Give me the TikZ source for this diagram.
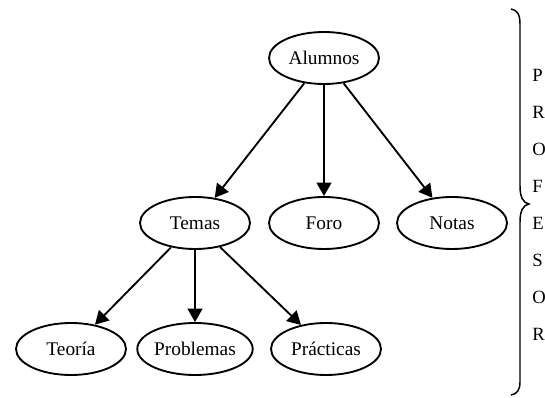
\documentclass[tikz,border=0pt]{standalone}
\usepackage{fontspec}
\setmainfont{Liberation Serif}
\usetikzlibrary{arrows.meta,shapes.geometric}

\begin{document}
\begin{tikzpicture}[x=0.75pt, y=-0.75pt,
        caja/.style={draw, ellipse, line width=1.4pt, minimum width=82.5pt, minimum height=39pt,
                     inner sep=0pt, font=\fontsize{14.5}{16}\selectfont},
        flecha/.style={-{Triangle[length=10pt, width=11pt]}, line width=1.4pt},
        letra/.style={anchor=west, inner sep=0pt, font=\fontsize{14}{16}\selectfont}]
            % Frame to fix the size
            \useasboundingbox (0, 0) rectangle (545, 398);
            % Nodes
            \node[caja] (alumnos)   at (324,  58) {Alumnos};
            \node[caja] (temas)     at (195, 223) {Temas};
            \node[caja] (foro)      at (324, 223) {Foro};
            \node[caja] (notas)     at (452, 223) {Notas};
            \node[caja] (teoria)    at ( 71, 349) {Teoría};
            \node[caja] (problemas) at (195, 349) {Problemas};
            \node[caja] (practicas) at (326, 349) {Prácticas};
            % Edges
            \draw[flecha] (alumnos) -- (temas);
            \draw[flecha] (alumnos) -- (foro);
            \draw[flecha] (alumnos) -- (notas);
            \draw[flecha] (temas) -- (teoria);
            \draw[flecha] (temas) -- (problemas);
            \draw[flecha] (temas) -- (practicas);
            % Brace
            \draw[line width=1.1pt] (511, 9) .. controls (517, 10) and (520, 14) .. (520, 24)
                -- (520, 186) .. controls (520, 197) and (523, 203) .. (529, 204)
                .. controls (523, 205) and (520, 211) .. (520, 222)
                -- (520, 382) .. controls (520, 390) and (517, 394) .. (511, 395);
            % Letters
            \foreach \txt [count=\i] in {P,R,O,F,E,S,O,R}
                \node[letra] (letra\i) at (532, 38+37*\i) {\txt};
        \end{tikzpicture}
\end{document}
